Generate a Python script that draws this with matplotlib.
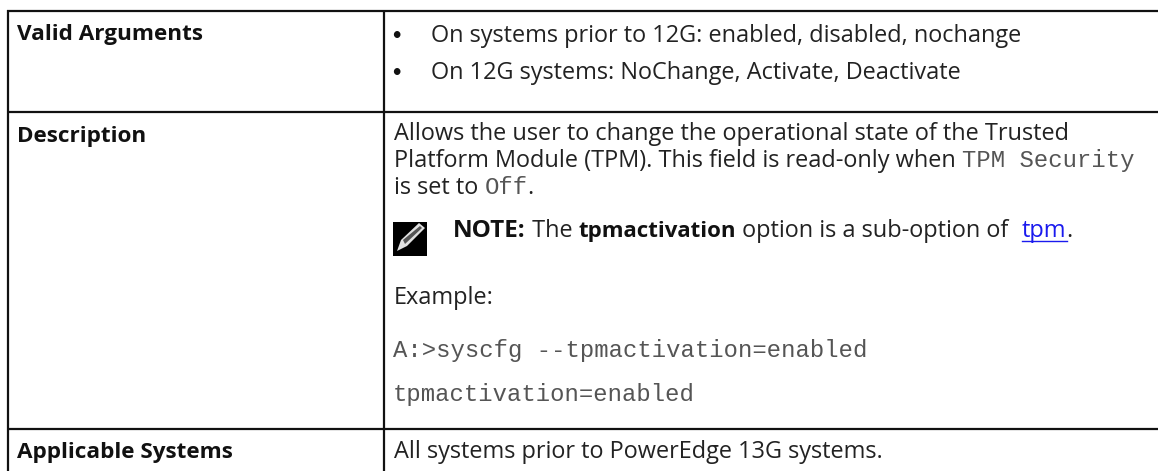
import matplotlib
matplotlib.use('Agg')
import matplotlib.pyplot as plt
from matplotlib.patches import Rectangle, Polygon

plt.rcParams.update({'font.family': 'Open Sans', 'font.size': 16.9})

row_labels = ['Valid Arguments', 'Description', 'Applicable Systems']
row_label_y = [40, 142, 458]
row_lines = [10.5, 111.5, 428.5]
col_lines = [8, 384]

bullets = ['On systems prior to 12G: enabled, disabled, nochange',
           'On 12G systems: NoChange, Activate, Deactivate']
bullet_y = [42, 79]

# x, baseline y, then (text, style) runs
desc_lines = [
    (394, 140, [('Allows the user to change the operational state of the Trusted', 'n')]),
    (394, 167, [('Platform Module (TPM). This field is read-only when ', 'n'), ('TPM Security', 'm')]),
    (394, 194, [('is set to ', 'n'), ('Off', 'm'), ('.', 'n')]),
    (453, 237, [('NOTE:', 'B'), (' The ', 'n'), ('tpmactivation', 'b'), (' option is a sub-option of ', 'n')]),
    (1022, 237, [('tpm', 'l'), ('.', 'n')]),
    (394, 304, [('Example:', 'n')]),
    (393, 357, [('A:>syscfg --tpmactivation=enabled', 'm')]),
    (393, 401, [('tpmactivation=enabled', 'm')]),
    (394, 458, [('All systems prior to PowerEdge 13G systems.', 'n')]),
]

fig = plt.figure(figsize=(11.58, 4.71), dpi=100)
ax = fig.add_axes([0, 0, 1, 1])
ax.set_xlim(0, 1158)
ax.set_ylim(471, 0)
ax.axis('off')

# table rules, the right side runs off the picture
for y in row_lines:
    ax.plot([col_lines[0] - 1, 1158], [y, y], color='#111111', lw=1.6, solid_capstyle='butt')
for x in col_lines:
    ax.plot([x, x], [row_lines[0] - 1, 471], color='#111111', lw=1.6, solid_capstyle='butt')

for label, y in zip(row_labels, row_label_y):
    ax.text(17, y, label, fontsize=16.2, fontweight='bold', va='baseline', color='#111111')

for text, y in zip(bullets, bullet_y):
    ax.text(391, y - 2, '\u2022', family='Lato', fontsize=13, va='baseline', color='#111111')
    ax.text(431, y, text, fontsize=16.9, va='baseline', color='#222222')


def draw_run(x, y, runs):
    renderer = fig.canvas.get_renderer()
    for text, style in runs:
        kw = {'fontsize': 16.9, 'color': '#222222'}
        if style == 'b':
            kw.update(fontweight='bold', color='#111111', fontsize=16)
        elif style == 'B':
            kw.update(fontweight='bold', color='#111111', fontsize=17.5)
        elif style == 'm':
            kw.update(family='Liberation Mono', fontsize=17.2, color='#555555')
        elif style == 'l':
            kw.update(color='#1a1aee')
        t = ax.text(x, y, text.replace(' ', '\u00a0'), va='baseline', **kw)
        w = t.get_window_extent(renderer).width
        if style == 'l':
            ax.plot([x, x + w], [y + 3.5, y + 3.5], color='#1a1aee', lw=1)
        x += w


for x, y, runs in desc_lines:
    draw_run(x, y, runs)

# note icon
ax.add_patch(Rectangle((393, 222), 34, 34, color='black', lw=0))
ax.add_patch(Polygon([[397, 251], [401, 240], [419, 223], [425, 228], [407, 246]], color='#e0e0e0', lw=0))
ax.add_patch(Polygon([[403, 240], [420, 226], [422, 228], [405, 244]], color='#555555', lw=0))

fig.savefig('out.png', dpi=100)
